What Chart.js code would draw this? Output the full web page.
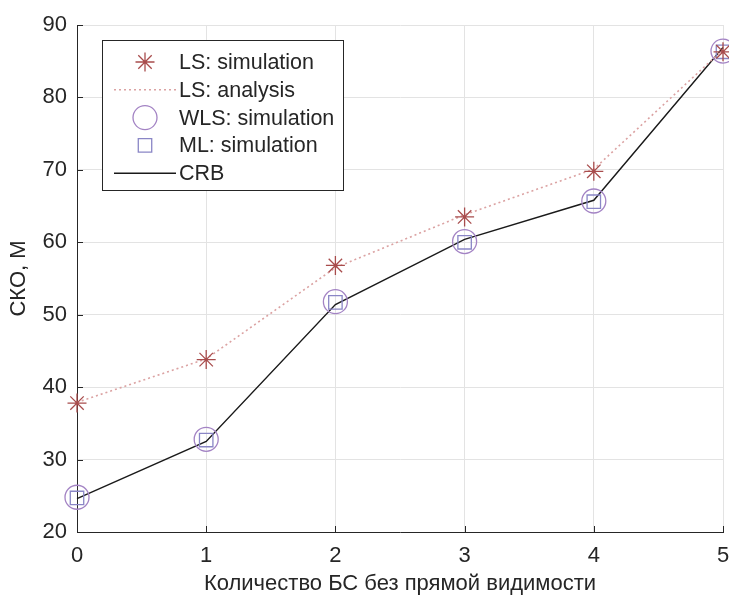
<!DOCTYPE html>
<html>
<head>
<meta charset="utf-8">
<script src="https://cdn.jsdelivr.net/npm/chart.js@4.4.1/dist/chart.umd.min.js"></script>
<style>
html,body{margin:0;padding:0;background:#fff;}
#wrap{width:729px;height:601px;}
</style>
</head>
<body>
<div id="wrap"><canvas id="c" width="729" height="601"></canvas></div>
<script>
const xValues = [0, 1, 2, 3, 4, 5];
const lsSimulation = [37.8, 43.8, 56.8, 63.5, 69.8, 86.3];
const lsAnalysis = [37.9, 43.9, 56.5, 63.8, 70.1, 86.6];
const wlsSimulation = [24.8, 32.8, 51.8, 60.1, 65.7, 86.4];
const mlSimulation = [24.7, 32.7, 51.7, 60.0, 65.6, 86.3];
const crb = [24.6, 32.5, 51.4, 60.4, 65.8, 86.9];
const yTicks = [20, 30, 40, 50, 60, 70, 80, 90];
const xTitle = 'Количество БС без прямой видимости';
const yTitle = 'СКО, М';

const FONT = "'Liberation Sans', Arial, sans-serif";
const TXT = '#262626';
const FS = 22;
const pts = arr => arr.map((v, i) => ({x: xValues[i], y: v}));

function drawMarker(ctx, style, r, x, y, color, lw) {
  ctx.save();
  ctx.strokeStyle = color; ctx.lineWidth = lw;
  ctx.beginPath();
  if (style === 'star') {
    const d = r * Math.SQRT1_2;
    ctx.moveTo(x - r, y); ctx.lineTo(x + r, y);
    ctx.moveTo(x, y - r); ctx.lineTo(x, y + r);
    ctx.moveTo(x - d, y - d); ctx.lineTo(x + d, y + d);
    ctx.moveTo(x - d, y + d); ctx.lineTo(x + d, y - d);
  } else if (style === 'circle') {
    ctx.arc(x, y, r, 0, Math.PI * 2);
  } else if (style === 'rect') {
    const s = r * Math.SQRT1_2;
    ctx.rect(x - s, y - s, 2 * s, 2 * s);
  }
  ctx.stroke();
  ctx.restore();
}

const insideLegend = {
  id: 'insideLegend',
  afterDraw(chart) {
    const ctx = chart.ctx;
    const bx = 102, by = 40, bw = 241, bh = 150;
    ctx.save();
    ctx.fillStyle = '#fff';
    ctx.fillRect(bx, by, bw, bh);
    ctx.strokeStyle = TXT; ctx.lineWidth = 1;
    ctx.strokeRect(bx + 0.5, by + 0.5, bw, bh);
    ctx.font = '21.5px ' + FONT;
    ctx.fillStyle = TXT;
    ctx.textBaseline = 'middle';
    const y0 = 62, dy = 27.8;
    chart.data.datasets.forEach((ds, i) => {
      const y = y0 + i * dy;
      if (ds.showLine !== false) {
        ctx.save();
        ctx.strokeStyle = ds.borderColor; ctx.lineWidth = ds.borderWidth;
        ctx.setLineDash(ds.borderDash || []);
        ctx.beginPath(); ctx.moveTo(114, y); ctx.lineTo(176, y); ctx.stroke();
        ctx.restore();
      }
      if (ds.pointRadius > 0) {
        drawMarker(ctx, ds.pointStyle, ds.pointRadius, 145, y, ds.pointBorderColor, ds.pointBorderWidth);
      }
      ctx.fillText(ds.label, 179, y + 1);
    });
    ctx.restore();
  }
};

const inwardTicks = {
  id: 'inwardTicks',
  afterDatasetsDraw(chart) {
    const ctx = chart.ctx, a = chart.chartArea;
    const xs = chart.scales.x, ys = chart.scales.y;
    ctx.save();
    ctx.strokeStyle = TXT; ctx.lineWidth = 1;
    ctx.beginPath();
    yTicks.forEach(v => {
      const y = Math.round(ys.getPixelForValue(v)) + 0.5;
      ctx.moveTo(a.left, y); ctx.lineTo(a.left + 6, y);
    });
    xValues.forEach(v => {
      const x = Math.round(xs.getPixelForValue(v)) + 0.5;
      ctx.moveTo(x, a.bottom); ctx.lineTo(x, a.bottom - 6);
    });
    ctx.stroke();
    ctx.restore();
  }
};

new Chart(document.getElementById('c'), {
  type: 'scatter',
  data: {
    datasets: [
      {label: 'LS: simulation', data: pts(lsSimulation), showLine: false, clip: false,
       pointStyle: 'star', pointRadius: 9.5, pointBorderColor: '#a84c4c', pointBorderWidth: 1.3,
       pointBackgroundColor: 'rgba(0,0,0,0)', borderColor: '#a84c4c', borderWidth: 1},
      {label: 'LS: analysis', data: pts(lsAnalysis), showLine: true, clip: false,
       borderColor: '#dba2a2', borderWidth: 1.6, borderDash: [2, 3],
       pointRadius: 0, pointBorderColor: '#dba2a2', pointBorderWidth: 1},
      {label: 'WLS: simulation', data: pts(wlsSimulation), showLine: false, clip: false,
       pointStyle: 'circle', pointRadius: 12, pointBorderColor: '#a383c4', pointBorderWidth: 1.3,
       pointBackgroundColor: 'rgba(0,0,0,0)', borderColor: '#a383c4', borderWidth: 1},
      {label: 'ML: simulation', data: pts(mlSimulation), showLine: false, clip: false,
       pointStyle: 'rect', pointRadius: 9.5, pointBorderColor: '#8a86c6', pointBorderWidth: 1.3,
       pointBackgroundColor: 'rgba(0,0,0,0)', borderColor: '#8a86c6', borderWidth: 1},
      {label: 'CRB', data: pts(crb), showLine: true, clip: false,
       borderColor: '#1a1a1a', borderWidth: 1.4, pointRadius: 0,
       pointBorderColor: '#1a1a1a', pointBorderWidth: 1}
    ]
  },
  options: {
    responsive: false,
    animation: false,
    events: [],
    layout: {autoPadding: false, padding: {left: 0, right: 6, top: 25, bottom: 0}},
    plugins: {legend: {display: false}, tooltip: {enabled: false}},
    scales: {
      x: {
        type: 'linear', min: 0, max: 5,
        afterFit(s) { s.height = 69; s.paddingLeft = 0; s.paddingRight = 0; },
        afterBuildTicks(s) { s.ticks = xValues.map(v => ({value: v})); },
        grid: {color: '#e3e3e3', lineWidth: 1, tickLength: 0, drawTicks: false},
        border: {display: true, color: TXT, width: 1},
        ticks: {font: {family: FONT, size: FS}, color: TXT, padding: 11, maxRotation: 0},
        title: {display: true, text: xTitle, font: {family: FONT, size: FS}, color: TXT,
                padding: {top: 0, bottom: 4}}
      },
      y: {
        min: 20, max: 90,
        afterFit(s) { s.width = 77; s.paddingTop = 0; s.paddingBottom = 0; },
        afterBuildTicks(s) { s.ticks = yTicks.map(v => ({value: v})); },
        grid: {color: '#e3e3e3', lineWidth: 1, tickLength: 0, drawTicks: false},
        border: {display: true, color: TXT, width: 1},
        ticks: {font: {family: FONT, size: FS}, color: TXT, padding: 10},
        title: {display: true, text: yTitle, font: {family: FONT, size: FS}, color: TXT,
                padding: {top: 6, bottom: 0}}
      }
    }
  },
  plugins: [inwardTicks, insideLegend]
});
</script>
</body>
</html>
